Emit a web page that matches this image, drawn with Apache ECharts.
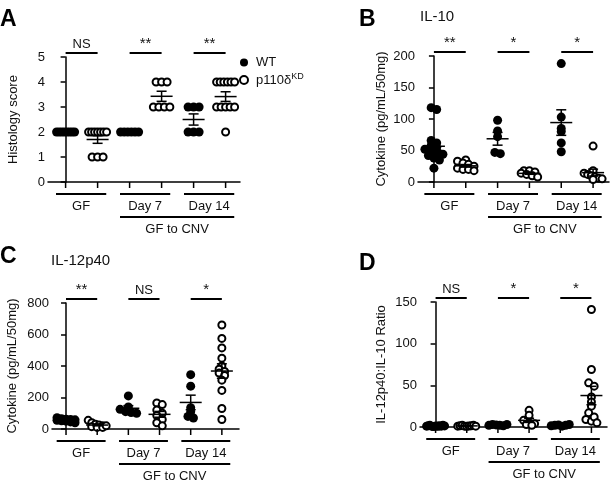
<!DOCTYPE html>
<html>
<head>
<meta charset="utf-8">
<script src="https://cdn.jsdelivr.net/npm/echarts@6/dist/echarts.min.js"></script>
<style>
  html, body { margin: 0; padding: 0; background: #fff; }
  #main { width: 614px; height: 486px; }
</style>
</head>
<body>
<div id="main"></div>
<script>
// group order on x: WT GF, KD GF, WT Day 7, KD Day 7, WT Day 14, KD Day 14
var groupLabels = ['GF', 'Day 7', 'Day 14'];
var outerLabel = 'GF to CNV';

// A: histology score
var histoWT = [[2, 2, 2, 2, 2, 2, 2, 2], [2, 2, 2, 2, 2, 2], [3, 3, 3, 2, 2, 2]];
var histoKD = [[2, 2, 2, 2, 2, 2, 2, 1, 1, 1], [4, 4, 4, 3, 3, 3, 3], [4, 4, 4, 4, 4, 4, 3, 3, 3, 3, 3, 2]];
var histoSig = ['NS', '**', '**'];
var histoTicks = [0, 1, 2, 3, 4, 5];

// B: IL-10
var il10WT = [[118, 115, 66, 62, 58, 55, 52, 50, 48, 46, 44, 42, 38, 35, 22], [98, 81, 72, 47, 45], [188, 103, 85, 80, 62, 48]];
var il10KD = [[35, 33, 30, 28, 25, 22, 20, 20, 18], [18, 18, 16, 14, 12, 10, 8], [57, 18, 14, 12, 10, 8, 6, 5, 4]];
var il10Sig = ['**', '*', '*'];
var il10Ticks = [0, 50, 100, 150, 200];

// C: IL-12p40
var il12WT = [[72, 65, 62, 60, 58, 55, 52, 50, 45, 40], [210, 140, 125, 110, 105, 100], [345, 272, 135, 110, 80, 70]];
var il12KD = [[55, 40, 30, 25, 20, 15, 10, 10, 20], [165, 155, 120, 100, 85, 60, 40, 20], [660, 575, 515, 450, 400, 380, 365, 355, 340, 310, 245, 130, 60]];
var il12Sig = ['**', 'NS', '*'];
var il12Ticks = [0, 200, 400, 600, 800];

// D: IL-12p40:IL-10 ratio
var ratioWT = [[1, 1.5, 2, 1, 0.5, 1, 1.2, 0.8, 1.5, 1, 2, 1.3], [2, 3, 2.5, 2, 1.5, 3], [1.5, 2, 2.5, 1, 2, 3]];
var ratioKD = [[1, 1.5, 2, 1, 0.8, 1.2, 1.5, 2, 1], [20, 14, 8, 5, 4, 3, 2], [141, 69, 53, 49, 36, 30, 25, 17, 9, 7, 12, 5]];
var ratioSig = ['NS', '*', '*'];
var ratioTicks = [0, 50, 100, 150];

var FONT = "'Liberation Sans', Arial, sans-serif";

var panels = [
  { grid: { left: 48, top: 57, width: 192, height: 125 }, xmin: -0.55, ticks: histoTicks,
    name: 'Histology score', gap: 28, wt: histoWT, kd: histoKD, sig: histoSig },
  { grid: { left: 418, top: 56, width: 191, height: 126 }, xmin: -0.5, ticks: il10Ticks,
    name: 'Cytokine (pg/mL/50mg)', gap: 30, wt: il10WT, kd: il10KD, sig: il10Sig },
  { grid: { left: 52, top: 303, width: 187, height: 126 }, xmin: -0.45, ticks: il12Ticks,
    name: 'Cytokine (pg/mL/50mg)', gap: 33, wt: il12WT, kd: il12KD, sig: il12Sig },
  { grid: { left: 420, top: 302, width: 187, height: 125 }, xmin: -0.5, ticks: ratioTicks,
    name: 'IL-12p40:IL-10 Ratio', gap: 32, wt: ratioWT, kd: ratioKD, sig: ratioSig }
];

// spread points that share a row, like a column scatter plot
function swarm(vals, pxY, pxX) {
  var bins = {};
  vals.forEach(function (v, i) {
    var b = Math.round(v * pxY / 6);
    (bins[b] = bins[b] || []).push(i);
  });
  var off = new Array(vals.length).fill(0);
  Object.keys(bins).forEach(function (b) {
    var idx = bins[b];
    var n = idx.length;
    var s = n > 1 ? Math.min(5.5, 18 / (n - 1)) : 0;
    idx.forEach(function (i, k) { off[i] = (k - (n - 1) / 2) * s / pxX; });
  });
  return off;
}

function meanSem(vals) {
  var n = vals.length;
  var m = vals.reduce(function (a, b) { return a + b; }, 0) / n;
  var v = vals.reduce(function (a, b) { return a + (b - m) * (b - m); }, 0) / (n - 1);
  return [m, Math.sqrt(v / n)];
}

var lineStyle = { stroke: '#000', lineWidth: 2 };
var thin = { stroke: '#000', lineWidth: 1.5 };

function textEl(x, y, t, size) {
  return { type: 'text', x: x, y: y, style: { text: t, fill: '#111', font: size + 'px ' + FONT,
    align: 'center', verticalAlign: 'middle', textAlign: 'center', textVerticalAlign: 'middle' } };
}

var option = {
  backgroundColor: '#ffffff',
  animation: false,
  textStyle: { fontFamily: FONT },
  grid: [], xAxis: [], yAxis: [], series: [],
  legend: {
    left: 234, top: 51, orient: 'vertical', itemGap: 3, itemWidth: 8, itemHeight: 8,
    data: ['WT', 'KD'],
    formatter: function (n) { return n === 'KD' ? 'p110δ{sup|KD}' : 'WT'; },
    textStyle: { fontSize: 13, color: '#111', fontFamily: FONT, padding: [0, 0, 0, 3],
      rich: { sup: { fontSize: 9, verticalAlign: 'top', padding: [0, 0, 7, 0], fontFamily: FONT } } }
  },
  graphic: [
    { type: 'text', left: 0, top: 8, style: { text: 'A', font: 'bold 23px ' + FONT, fill: '#000' } },
    { type: 'text', left: 359, top: 8, style: { text: 'B', font: 'bold 23px ' + FONT, fill: '#000' } },
    { type: 'text', left: 0, top: 245, style: { text: 'C', font: 'bold 23px ' + FONT, fill: '#000' } },
    { type: 'text', left: 359, top: 252, style: { text: 'D', font: 'bold 23px ' + FONT, fill: '#000' } },
    { type: 'text', left: 420, top: 9, style: { text: 'IL-10', font: '15px ' + FONT, fill: '#111' } },
    { type: 'text', left: 51, top: 253, style: { text: 'IL-12p40', font: '15px ' + FONT, fill: '#111' } }
  ]
};

panels.forEach(function (p, k) {
  var ymax = p.ticks[p.ticks.length - 1];
  var xmax = p.xmin + 6;
  var pxX = p.grid.width / 6;
  var pxY = p.grid.height / ymax;
  option.grid.push(p.grid);
  option.xAxis.push({
    gridIndex: k, type: 'value', min: p.xmin, max: xmax,
    axisLine: { lineStyle: { color: '#000', width: 1.5 } },
    axisTick: { show: false }, axisLabel: { show: false }, splitLine: { show: false }
  });
  option.yAxis.push({
    gridIndex: k, type: 'value', min: 0, max: ymax, interval: p.ticks[1],
    name: p.name, nameLocation: 'middle', nameGap: p.gap,
    nameTextStyle: { fontSize: 13, color: '#111', fontFamily: FONT },
    axisLine: { show: true, lineStyle: { color: '#000', width: 1.5 } },
    axisTick: { show: true, length: 5, lineStyle: { color: '#000', width: 1.5 } },
    axisLabel: { fontSize: 13, color: '#111', margin: 3, fontFamily: FONT },
    splitLine: { show: false }
  });

  ['WT', 'KD'].forEach(function (who) {
    var groups = who === 'WT' ? p.wt : p.kd;
    var pts = [], bars = [];
    groups.forEach(function (vals, g) {
      var x = 2 * g + (who === 'WT' ? 0 : 1);
      var off = swarm(vals, pxY, pxX);
      vals.forEach(function (v, i) { pts.push([x + off[i], v]); });
      var ms = meanSem(vals);
      bars.push([x, ms[0], ms[1]]);
    });
    option.series.push({
      name: who, type: 'scatter', xAxisIndex: k, yAxisIndex: k, z: 2,
      symbol: 'circle', symbolSize: who === 'WT' ? 9 : 7,
      itemStyle: who === 'WT' ? { color: '#000', opacity: 1 }
        : { color: '#fff', borderColor: '#000', borderWidth: 2, opacity: 1 },
      data: pts
    });
    option.series.push({
      type: 'custom', xAxisIndex: k, yAxisIndex: k, z: 3, silent: true,
      renderItem: function (params, api) {
        var x = api.value(0), m = api.value(1), s = api.value(2);
        var c = api.coord([x, m]), hi = api.coord([x, m + s]), lo = api.coord([x, m - s]);
        return { type: 'group', children: [
          { type: 'line', shape: { x1: c[0] - 11, y1: c[1], x2: c[0] + 11, y2: c[1] }, style: thin },
          { type: 'line', shape: { x1: c[0], y1: hi[1], x2: c[0], y2: lo[1] }, style: thin },
          { type: 'line', shape: { x1: c[0] - 5, y1: hi[1], x2: c[0] + 5, y2: hi[1] }, style: thin },
          { type: 'line', shape: { x1: c[0] - 5, y1: lo[1], x2: c[0] + 5, y2: lo[1] }, style: thin }
        ] };
      },
      data: bars
    });
  });

  // significance bars, x ticks and group brackets
  option.series.push({
    type: 'custom', xAxisIndex: k, yAxisIndex: k, z: 4, silent: true, clip: false,
    renderItem: function (params, api) {
      var y0 = api.coord([0, 0])[1];
      var yt = api.coord([0, ymax])[1];
      var X = function (v) { return api.coord([v, 0])[0]; };
      var ch = [];
      for (var i = 0; i < 6; i++) {
        ch.push({ type: 'line', shape: { x1: X(i), y1: y0, x2: X(i), y2: y0 + 6 }, style: thin });
      }
      p.sig.forEach(function (t, g) {
        ch.push({ type: 'line', shape: { x1: X(2 * g), y1: yt - 4, x2: X(2 * g + 1), y2: yt - 4 }, style: lineStyle });
        ch.push(textEl((X(2 * g) + X(2 * g + 1)) / 2, yt - 13, t, t === 'NS' ? 13 : 15));
      });
      groupLabels.forEach(function (t, g) {
        var a = X(2 * g - 0.3), b = X(2 * g + 1.27);
        ch.push({ type: 'line', shape: { x1: a, y1: y0 + 12, x2: b, y2: y0 + 12 }, style: lineStyle });
        ch.push(textEl((a + b) / 2, y0 + 24, t, 13));
      });
      var a2 = X(1.7), b2 = X(5.27);
      ch.push({ type: 'line', shape: { x1: a2, y1: y0 + 35, x2: b2, y2: y0 + 35 }, style: lineStyle });
      ch.push(textEl((a2 + b2) / 2, y0 + 47, outerLabel, 13));
      return { type: 'group', children: ch };
    },
    data: [[0, 0]]
  });
});

var myChart = echarts.init(document.getElementById('main'));
myChart.setOption(option);
</script>
</body>
</html>
